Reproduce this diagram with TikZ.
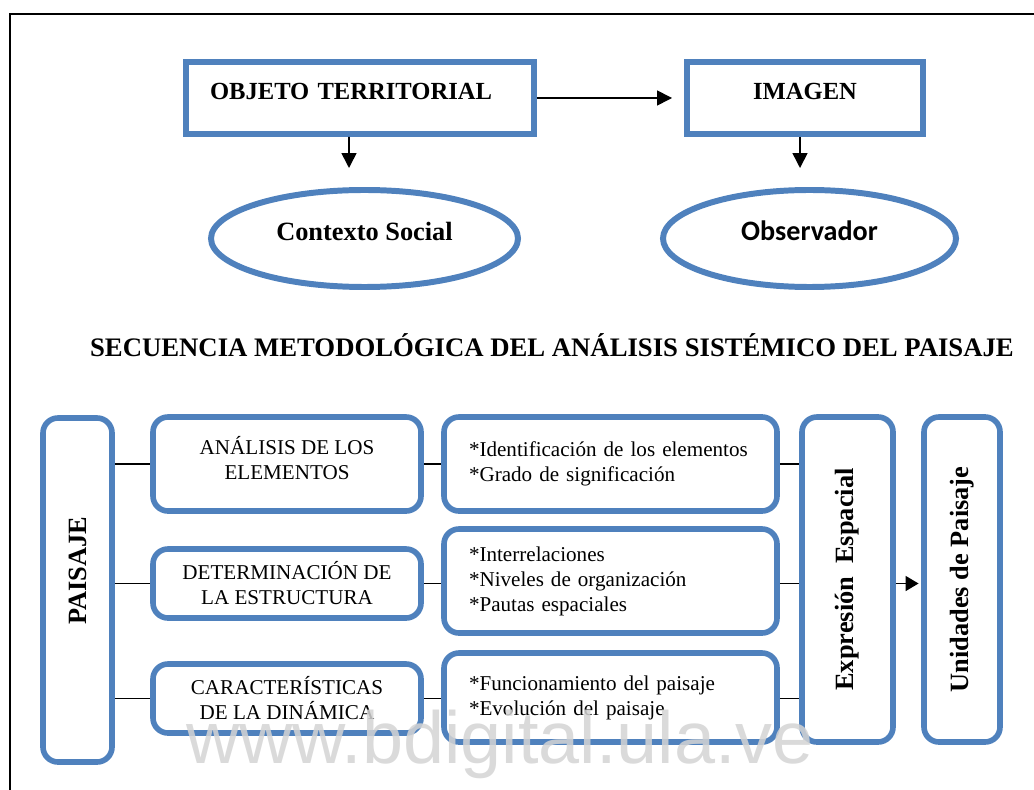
\documentclass[tikz,border=0pt]{standalone}
\usepackage{fontspec}
\setmainfont{Liberation Serif}
\newfontfamily\calibrifont{Carlito}
\newfontfamily\arialfont{Liberation Sans}
\usepackage{tikz}
\usetikzlibrary{arrows.meta}
\usetikzlibrary{positioning}
\usetikzlibrary{shapes.geometric}
\usepackage{xcolor}
\definecolor{wordblue}{HTML}{4F81BD}
\definecolor{marklight}{HTML}{D4D4D4}

\begin{document}
\begin{tikzpicture}[
        topbox/.style={rectangle, draw=wordblue, line width=3.4pt,
          minimum height=1.44cm, inner sep=0pt,
          font=\fontsize{14}{16}\selectfont\bfseries,
          text height=0.34cm, text depth=0.29cm},
        oval/.style={ellipse, draw=wordblue, line width=3.4pt,
          minimum width=6.14cm, minimum height=1.94cm, inner sep=0pt,
          text height=0.36cm, text depth=0.27cm},
        stepbox/.style={rectangle, rounded corners=0.3cm, draw=wordblue,
          line width=3.2pt, minimum width=5.36cm, inner sep=0pt,
          align=center, font=\fontsize{12}{14.2}\selectfont},
        listbox/.style={stepbox, minimum width=6.66cm, text width=5.66cm,
          inner xsep=0.5cm, align=left},
        tallbox/.style={rectangle, rounded corners=0.3cm, draw=wordblue,
          line width=3.2pt, inner sep=0pt, rotate=90,
          font=\fontsize{15}{17}\selectfont\bfseries},
        link/.style={black, line width=0.9pt},
        arr/.style={link, -{Triangle[length=0.3cm, width=0.3cm]}},
      ]

      \useasboundingbox (0,0) rectangle (20.68,-15.8);

      % Page frame
      \draw[black, line width=0.9pt] (0.2,-16) -- (0.2,-0.28) -- (20.8,-0.28);

      % Top: object, image and their contexts
      \node[topbox, minimum width=6.96cm, text width=6.0cm, align=left,
        inner xsep=0.48cm] (objeto) at (7.2,-1.96) {OBJETO TERRITORIAL};
      \node[topbox, minimum width=4.72cm] (imagen) at (16.1,-1.96) {IMAGEN};

      \node[oval, font=\fontsize{15}{17}\selectfont\bfseries]
        (contexto) at (7.29,-4.77) {Contexto Social};
      \node[oval, minimum width=5.86cm,
        font=\calibrifont\fontsize{16}{18}\selectfont\bfseries]
        (observador) at (16.19,-4.77) {Observador};

      \draw[arr, shorten >=0.24cm] (objeto.east) -- (imagen.west);
      \draw[arr] ([xshift=-0.22cm]objeto.south)
        -- ([xshift=-0.31cm, yshift=0.38cm]contexto.north);
      \draw[arr] ([xshift=-0.1cm]imagen.south)
        -- ([xshift=-0.19cm, yshift=0.38cm]observador.north);

      % Title
      \node[font=\fontsize{15.2}{17}\selectfont\bfseries] (titulo) at (11.04,-6.9)
        {SECUENCIA METODOLÓGICA DEL ANÁLISIS SISTÉMICO DEL PAISAJE};

      % Methodological sequence (rotated boxes: south = right side)
      \node[tallbox, minimum width=6.88cm, minimum height=1.38cm]
        (paisaje) at (1.55,-11.8) {\hspace*{0.76cm}PAISAJE};

      \node[stepbox, minimum height=1.88cm, text depth=0.26cm]
        (analisis) at (5.74,-9.28) {ANÁLISIS DE LOS\\ELEMENTOS};
      \node[stepbox, minimum height=1.38cm] (estructura) at (5.74,-11.67)
        {DETERMINACIÓN DE\\LA ESTRUCTURA};
      \node[stepbox, minimum height=1.38cm] (dinamica) at (5.74,-13.97)
        {CARACTERÍSTICAS\\DE LA DINÁMICA};

      \node[listbox, minimum height=1.88cm] (elementos) at (12.21,-9.28)
        {*Identificación de los elementos\\{}*Grado de significación};
      \node[listbox, minimum height=2.08cm] (relaciones) at (12.21,-11.62)
        {*Interrelaciones\\{}*Niveles de organización\\{}*Pautas espaciales};
      \node[listbox, minimum height=1.78cm] (funciones) at (12.21,-13.95)
        {*Funcionamiento del paisaje\\{}*Evolución del paisaje};

      \node[tallbox, minimum width=6.5cm, minimum height=1.82cm]
        (expresion) at (16.95,-11.59) {Expresión\ \ Espacial};
      \node[tallbox, minimum width=6.5cm, minimum height=1.52cm]
        (unidades) at (19.24,-11.59) {Unidades de Paisaje};

      % Connectors
      \foreach \a/\b in {analisis/elementos, estructura/relaciones,
          dinamica/funciones} {
        \draw[link] (paisaje.south |- \a.west) -- (\a.west);
        \draw[link] (\a.east) -- (\a.east -| \b.west);
        \draw[link] (\a.east -| \b.east) -- (\a.east -| expresion.north);
      }
      \draw[arr, -{Triangle[length=0.26cm, width=0.3cm]}, shorten >=1.5pt]
        (estructura.east -| expresion.south) -- (estructura.east -| unidades.north);

      % Watermark
      \node[anchor=base, font=\arialfont\fontsize{42}{42}\selectfont,
        text=marklight, text opacity=0.85] (marca) at (10.0,-15.26)
        {www.bdigital.ula.ve};

      \end{tikzpicture}
\end{document}
